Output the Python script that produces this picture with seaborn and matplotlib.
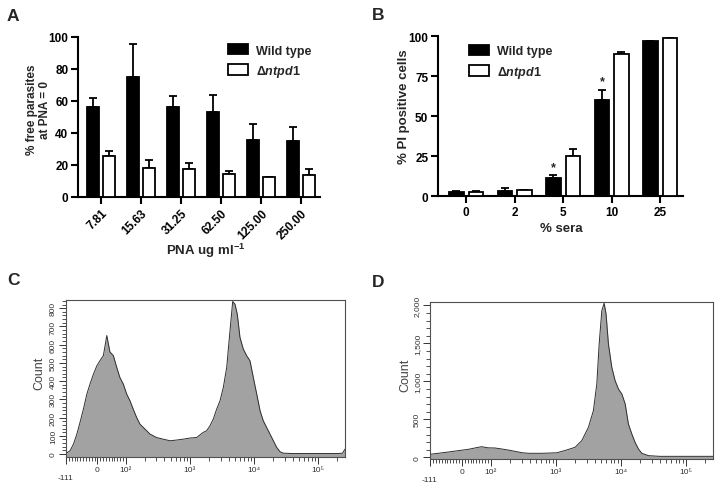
import matplotlib
matplotlib.use('Agg')
import numpy as np
import pandas as pd
import seaborn as sns
from matplotlib import pyplot as plt

sns.set_theme(style='ticks')
plt.rcParams['font.family'] = ['Liberation Sans', 'DejaVu Sans']
plt.rcParams['font.weight'] = 'bold'
plt.rcParams['mathtext.fontset'] = 'custom'
plt.rcParams['mathtext.rm'] = 'Liberation Sans:bold'
plt.rcParams['mathtext.it'] = 'Liberation Sans:italic:bold'
plt.rcParams['mathtext.bf'] = 'Liberation Sans:bold'

# panel A: PNA agglutination
pna_conc = ['7.81', '15.63', '31.25', '62.50', '125.00', '250.00']
pna_wt = [56, 75, 56.5, 53, 35.5, 35]
pna_wt_top = [62, 95.5, 63.3, 64, 45.5, 43.7]
pna_ko = [25.8, 18.3, 17.5, 14.2, 12.3, 13.9]
pna_ko_top = [29, 23.3, 21.5, 16.3, 12.7, 17.7]

# panel B: PI positive cells vs sera
sera = ['0', '2', '5', '10', '25']
sera_wt = [2.5, 3.3, 11, 60, 97]
sera_wt_top = [3, 4.8, 13, 66.5, 97]
sera_ko = [2.8, 4, 24.8, 88.7, 98.5]
sera_ko_top = [3.2, 4, 29.6, 90.2, 98.5]
sera_star = ['5', '10']

# panel C / D: flow cytometry histograms (intensity, count)
facs_c_x = [-111, -96, -84, -72, -61, -49, -37, -26, -14, -2, 9, 21, 33, 44, 56,
            68, 79, 91, 103, 116, 130, 147, 166, 187, 211, 237, 300, 380, 490, 620,
            790, 1000, 1270, 1610, 1820, 2050, 2310, 2610, 2940, 3310, 3740, 4210,
            4640, 5040, 5470, 6030, 6790, 7680, 8630, 9730, 11000, 12400, 13900,
            15700, 17700, 20000, 22500, 25400, 28600, 40000, 100000, 200000, 240000,
            262144]
facs_c_n = [4, 18, 55, 110, 174, 247, 329, 384, 438, 484, 512, 540, 650, 560, 540,
            475, 420, 384, 329, 292, 247, 201, 164, 146, 128, 110, 91, 82, 73, 77,
            82, 88, 91, 119, 128, 155, 192, 247, 292, 365, 475, 676,
            837, 822, 767, 639, 576, 539, 512, 420, 329, 238, 183,
            146, 110, 73, 37, 13, 5, 3, 3, 3, 5,
            27]
facs_d_x = [-111, -82, -47, -12, 22, 45, 68, 91, 116, 147, 186, 236, 300, 380, 610,
            1040, 1390, 1980, 2510, 3180, 3790, 4280, 4650, 5110, 5550, 5940, 6460,
            7280, 8190, 9210, 10400, 11700, 13100, 14800, 16600, 18700, 21100, 26700,
            40000, 80000, 150000, 262144]
facs_d_n = [40, 53, 70, 88, 105, 123, 140, 125, 123, 110, 96, 79, 61, 53, 53,
            60, 90, 132, 219, 395, 614, 965, 1492, 1930, 2030, 1886, 1492,
            1184, 1009, 899, 833, 702, 439, 307, 197, 110, 53, 22,
            13, 13, 13, 13]

facs_major = [-111, 0, 100, 1000, 10000, 100000]
facs_labels = ['\n-111', '0', '10²', '10³', '10⁴', '10⁵']
facs_minor = list(range(-100, 100, 10)) + [k * 10 ** e for e in (2, 3, 4) for k in range(2, 10)] + [200000]

fig = plt.figure(figsize=(7.19, 4.89), dpi=100)
ax_a = fig.add_axes([78 / 719, 1 - 198 / 489, 242 / 719, 160 / 489])
ax_b = fig.add_axes([438 / 719, 1 - 197 / 489, 245 / 719, 160 / 489])
ax_c = fig.add_axes([66 / 719, 1 - 458 / 489, 279 / 719, 157 / 489])
ax_d = fig.add_axes([430 / 719, 1 - 460 / 489, 283 / 719, 157 / 489])


def bar_panel(ax, cats, wt, wt_top, ko, ko_top, leg_xy):
    df = pd.DataFrame({
        'cat': cats * 2,
        'val': wt + ko,
        'strain': ['Wild type'] * len(cats) + ['ntpd1'] * len(cats),
    })
    sns.barplot(data=df, x='cat', y='val', hue='strain', palette=['black', 'white'],
                edgecolor='black', linewidth=1.3, width=0.8, gap=0.25,
                errorbar=None, legend=False, ax=ax, zorder=3)
    bars = list(ax.containers)
    for cont, mean, top in zip(bars, [wt, ko], [wt_top, ko_top]):
        xs = [b.get_x() + b.get_width() / 2 for b in cont]
        up = np.array(top) - np.array(mean)
        ax.errorbar(xs, mean, yerr=[np.zeros_like(up), up], fmt='none', ecolor='black',
                    elinewidth=1.3, capsize=3.2, capthick=1.3, zorder=2)
    ax.legend(bars, ['Wild type', 'Δ$\\mathit{ntpd1}$'], loc='upper left',
              bbox_to_anchor=leg_xy, bbox_transform=fig.transFigure, frameon=False,
              fontsize=9, handlelength=1.6, handleheight=0.9, handletextpad=0.65,
              labelspacing=0.5, borderpad=0, borderaxespad=0)
    ax.set_ylim(0, 100)
    sns.despine(ax=ax)
    for s in ('left', 'bottom'):
        ax.spines[s].set_linewidth(1.5)
        ax.spines[s].set_color('black')
    ax.tick_params(width=1.5, length=5, direction='out', labelsize=8.5, colors='black', pad=2)
    return bars


bar_panel(ax_a, pna_conc, pna_wt, pna_wt_top, pna_ko, pna_ko_top, (228 / 719, 1 - 45 / 489))
ax_a.set_xlim(-0.57, 5.47)
ax_a.set_yticks([0, 20, 40, 60, 80, 100])
plt.setp(ax_a.get_xticklabels(), rotation=45, ha='right', rotation_mode='anchor')
ax_a.set_xlabel('PNA ug ml$^{-1}$', fontsize=9.5, fontweight='bold')
ax_a.xaxis.set_label_coords(0.527, -0.275)
ax_a.set_ylabel('% free parasites\nat PNA = 0', fontsize=8.5, fontweight='bold', linespacing=1.1)
ax_a.yaxis.set_label_coords(-0.11, 0.55)

bars_b = bar_panel(ax_b, sera, sera_wt, sera_wt_top, sera_ko, sera_ko_top, (469 / 719, 1 - 46 / 489))
ax_b.set_xlim(-0.58, 4.47)
ax_b.set_yticks([0, 25, 50, 75, 100])
ax_b.set_xlabel('% sera', fontsize=9.5, fontweight='bold')
ax_b.xaxis.set_label_coords(0.502, -0.16)
ax_b.set_ylabel('% PI positive cells', fontsize=9.5, fontweight='bold')
ax_b.yaxis.set_label_coords(-0.115, 0.564)
for cat in sera_star:
    i = sera.index(cat)
    b = bars_b[0][i]
    ax_b.text(b.get_x() + b.get_width() / 2, sera_wt_top[i] + 1.5, '*', ha='center',
              va='bottom', fontsize=9, fontweight='bold')


def facs_panel(ax, xs, counts, ylim, ymajor, ylabels, yminor, count_xy):
    ax.set_xscale('symlog', linthresh=100, linscale=0.4)
    ax.fill_between(xs, counts, ylim[0], color='#a2a2a2', lw=0, zorder=1)
    sns.lineplot(x=xs, y=counts, ax=ax, color='#2e2e2e', lw=0.7, estimator=None,
                 sort=False, zorder=2)
    ax.set_xlim(-111, 262144)
    ax.set_ylim(*ylim)
    ax.set_xticks(facs_major)
    ax.set_xticklabels(facs_labels)
    ax.set_xticks(facs_minor, minor=True)
    ax.set_xticklabels([], minor=True)
    ax.set_yticks(ymajor)
    ax.set_yticklabels(ylabels)
    ax.set_yticks(yminor, minor=True)
    ax.set_yticklabels([], minor=True)
    for s in ax.spines.values():
        s.set_linewidth(0.8)
        s.set_color('#505050')
    ax.tick_params(which='major', length=5, width=0.7, direction='out', colors='#333333',
                   labelsize=6, pad=1.5)
    ax.tick_params(which='minor', length=3, width=0.6, direction='out', colors='#333333')
    for lab in ax.get_xticklabels() + ax.get_yticklabels():
        lab.set_fontweight('normal')
        lab.set_family(['Liberation Sans Narrow', 'Liberation Sans', 'DejaVu Sans'])
    for lab in ax.get_yticklabels():
        lab.set_rotation(90)
        lab.set_va('center')
    ax.set_xlabel('')
    ax.set_ylabel('Count', fontsize=9, fontweight='normal', color='#444444')
    ax.yaxis.set_label_coords(*count_xy)


facs_panel(ax_c, facs_c_x, facs_c_n, (-16, 845), list(range(0, 801, 100)),
           [str(v) for v in range(0, 801, 100)], list(range(0, 841, 20)), (-0.075, 0.54))
facs_panel(ax_d, facs_d_x, facs_d_n, (-22, 2045), [0, 500, 1000, 1500, 2000],
           ['0', '500', '1,000', '1,500', '2,000'], list(range(0, 2001, 100)), (-0.065, 0.54))

for letter, x, y in [('A', 7, 21), ('B', 372, 20), ('C', 7, 285), ('D', 372, 287)]:
    fig.text(x / 719, 1 - y / 489, letter, fontsize=12.5, fontweight='bold', va='baseline')

plt.savefig('out.png', dpi=100)
